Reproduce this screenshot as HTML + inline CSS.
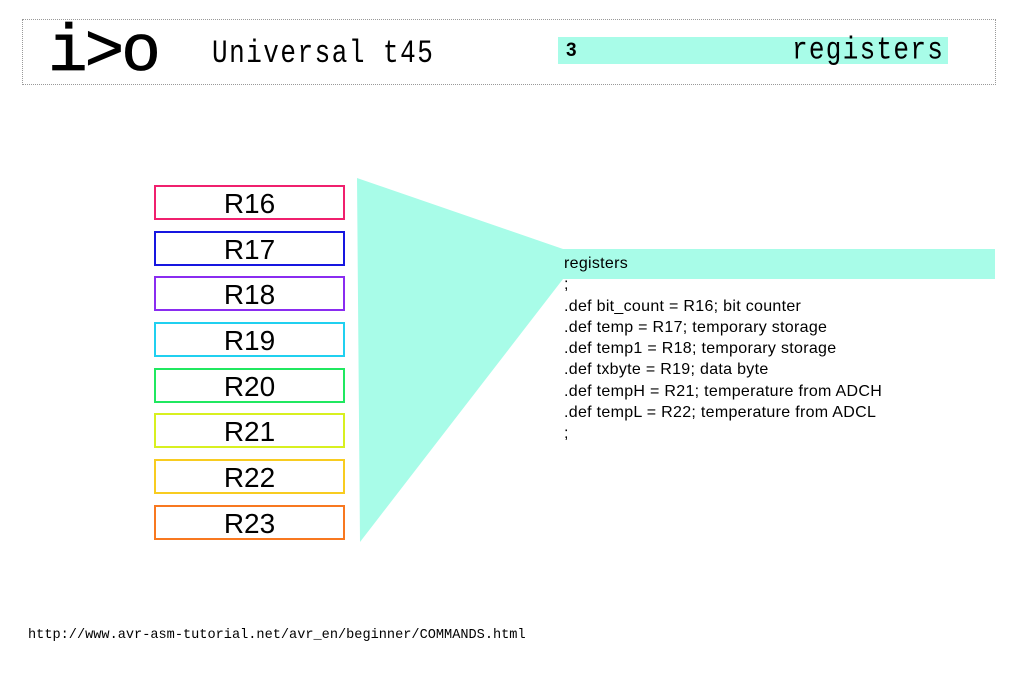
<!DOCTYPE html>
<html><head><style>
body{margin:0;width:1024px;height:683px;background:#fff;position:relative;overflow:hidden;font-family:"Liberation Sans",sans-serif}
.hdr{position:absolute;left:22px;top:19px;width:972px;height:64px;border:1px dotted #999}
.mono{font-family:"Liberation Mono",monospace}
.r{position:absolute;left:154px;width:187px;height:31px;border:2px solid;text-align:center;font-size:28px;line-height:33px;color:#000}
.t{position:absolute;left:564px;font-size:16px;letter-spacing:0.3px;line-height:21.3px;color:#000}
</style></head><body>
<div class="hdr"></div>
<div class="mono" style="position:absolute;left:48px;top:20px;font-size:66px;line-height:66px;-webkit-text-stroke:0.8px #000;letter-spacing:-3px">i&gt;o</div>
<div class="mono" style="position:absolute;left:212px;top:38px;font-size:26px;line-height:30px;letter-spacing:1.5px;transform:scaleY(1.25);transform-origin:0 50%">Universal t45</div>
<div style="position:absolute;left:558px;top:37px;width:390px;height:27px;background:#a8fce8"></div>
<div style="position:absolute;left:566px;top:38px;font-size:19px;font-weight:bold;line-height:26px">3</div>
<div class="mono" style="position:absolute;left:792px;top:36px;font-size:26px;line-height:28px;letter-spacing:1.3px;transform:scaleY(1.2);transform-origin:0 50%">registers</div>
<svg style="position:absolute;left:0;top:0" width="1024" height="683"><polygon points="357,178 563,249 995,249 995,279 563,279 360,542" fill="#a8fce8"/></svg>
<div class="r" style="top:185px;border-color:#f0206e">R16</div>
<div class="r" style="top:231px;border-color:#1616e0">R17</div>
<div class="r" style="top:276px;border-color:#8a2cf0">R18</div>
<div class="r" style="top:322px;border-color:#20d0f0">R19</div>
<div class="r" style="top:368px;border-color:#20e860">R20</div>
<div class="r" style="top:413px;border-color:#d8f020">R21</div>
<div class="r" style="top:459px;border-color:#f8cc20">R22</div>
<div class="r" style="top:505px;border-color:#f87820">R23</div>
<div class="t" style="top:253px">registers<br>;<br>.def bit_count = R16; bit counter<br>.def temp = R17; temporary storage<br>.def temp1 = R18; temporary storage<br>.def txbyte = R19; data byte<br>.def tempH = R21; temperature from ADCH<br>.def tempL = R22; temperature from ADCL<br>;</div>
<div class="mono" style="position:absolute;left:28px;top:628px;font-size:13.6px">http://www.avr-asm-tutorial.net/avr_en/beginner/COMMANDS.html</div>
</body></html>
